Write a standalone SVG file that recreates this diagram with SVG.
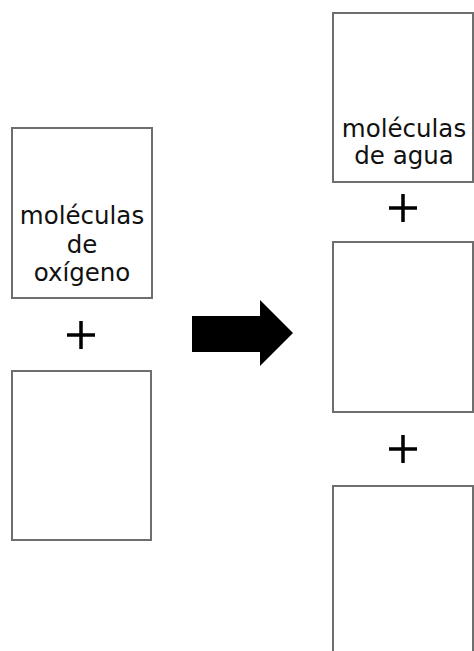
<svg xmlns="http://www.w3.org/2000/svg" width="474" height="651" viewBox="0 0 474 651">
<style>
.box{fill:#fff;stroke:#6e6e6e;stroke-width:2}
.t{font-family:"DejaVu Sans",Verdana,sans-serif;font-size:24.5px;fill:#111;text-anchor:middle}
.plus{stroke:#000;stroke-width:3.5}
</style>
<rect width="474" height="651" fill="#fff"/>
<g id="oxygen">
<rect class="box" x="12" y="128" width="140" height="170"/>
<text class="t" x="82" y="224">moléculas</text>
<text class="t" x="82" y="253">de</text>
<text class="t" x="82" y="281">oxígeno</text>
</g>
<g id="plus-left"><path class="plus" d="M67 335H95M81 321V349"/></g>
<g id="left-empty"><rect class="box" x="12" y="371" width="139" height="169"/></g>
<g id="connectors">
<path d="M192 316H260V300L293 333L260 366V352H192Z" fill="#000"/>
</g>
<g id="water">
<rect class="box" x="333" y="13" width="140" height="169"/>
<text class="t" x="404" y="137">moléculas</text>
<text class="t" x="404" y="164">de agua</text>
</g>
<g id="plus-right1"><path class="plus" d="M389 208H417M403 194V222"/></g>
<g id="right-empty1"><rect class="box" x="333" y="242" width="140" height="170"/></g>
<g id="plus-right2"><path class="plus" d="M389 449H417M403 435V463"/></g>
<g id="right-empty2"><rect class="box" x="333" y="486" width="140" height="180"/></g>
</svg>
